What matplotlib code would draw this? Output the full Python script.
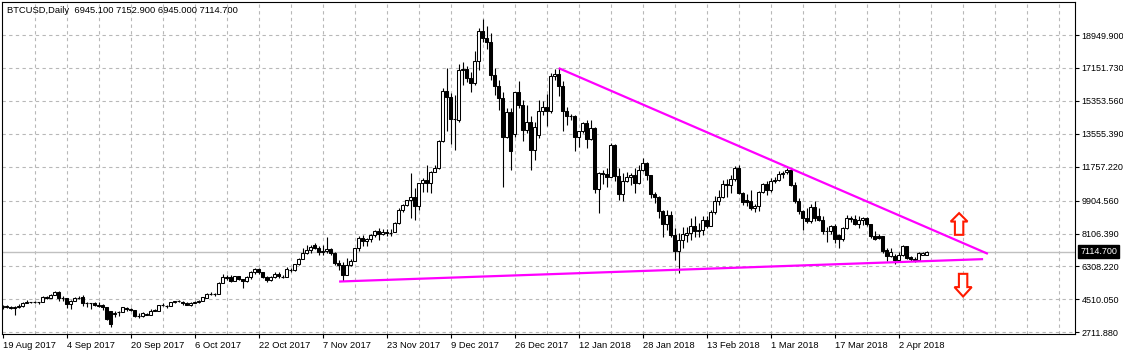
import matplotlib
matplotlib.use("Agg")
import matplotlib.pyplot as plt
from matplotlib.patches import Rectangle, Polygon
from matplotlib.transforms import blended_transform_factory
import pandas as pd

# ---------------- data ----------------
opens = [4080, 4170, 4110, 4030, 4090, 4150, 4310, 4360, 4350, 4360,
         4390, 4640, 4600, 4750, 4940, 4560, 4570, 4250, 4420, 4600,
         4620, 4300, 4310, 4290, 4210, 4200, 4080, 3850, 3700, 3800,
         3820, 4060, 3980, 3940, 3620, 3600, 3680, 3680, 3930, 3890,
         4200, 4180, 4170, 4340, 4400, 4390, 4310, 4220, 4320, 4370,
         4430, 4610, 4790, 4790, 4820, 5430, 5700, 5740, 5540, 5760,
         5600, 5500, 5730, 6000, 6150, 5990, 5750, 5560, 5740, 5900,
         5760, 5740, 6150, 6120, 6430, 6720, 7030, 7200, 7500, 7330,
         7080, 7140, 7260, 7060, 6500, 6400, 5860, 6400, 6600, 7300,
         7860, 7680, 7820, 8030, 8260, 8090, 8200, 8150, 8170, 8680,
         9390, 9670, 9920, 10080, 9600, 10850, 11030, 10860, 11490, 11700,
         13150, 15890, 15590, 14350, 14330, 17040, 17120, 16620, 16320, 17530,
         19170, 18810, 18560, 16740, 16140, 15500, 13400, 14770, 13530, 15820,
         15130, 13770, 14190, 12680, 13495, 14800, 15000, 14810, 16710, 16800,
         16170, 14800, 14500, 14530, 13370, 13700, 14130, 13270, 13860, 10530,
         11400, 11350, 11220, 12950, 11260, 10270, 10980, 11180, 11300, 10860,
         11580, 11950, 11310, 10280, 10100, 9310, 8620, 9130, 8040, 7130,
         7730, 8050, 8160, 8530, 8220, 8280, 8850, 8530, 9270, 9890,
         10090, 10820, 10730, 11070, 11670, 10310, 9960, 9910, 9490, 9600,
         10400, 10800, 10460, 10980, 11040, 11350, 11460, 11580, 10730, 9890,
         9310, 8980, 8770, 9580, 9060, 8860, 8220, 8260, 8520, 8040,
         7800, 8400, 8940, 8900, 8620, 8820, 8940, 8620, 7950, 7980,
         7970, 7200, 6860, 6900, 6640, 6950, 7400, 6850, 6710, 6640,
         6960, 6945.1]
highs = [4200, 4200, 4160, 4130, 4250, 4360, 4450, 4380, 4400, 4390,
         4680, 4680, 4780, 4990, 4980, 4680, 4590, 4450, 4650, 4690,
         4740, 4370, 4320, 4370, 4380, 4260, 4120, 3900, 3850, 3900,
         4120, 4110, 4040, 3950, 3760, 3800, 3760, 3980, 3970, 4220,
         4310, 4220, 4360, 4410, 4480, 4430, 4350, 4370, 4420, 4460,
         4650, 4880, 4930, 4880, 5440, 5880, 5840, 5860, 5800, 5780,
         5620, 5760, 6060, 6200, 6200, 6030, 5790, 5800, 5980, 5990,
         5820, 6300, 6220, 6450, 6750, 7300, 7460, 7500, 7600, 7420,
         7480, 7900, 7330, 7120, 6650, 6530, 6750, 6700, 7330, 7960,
         8030, 7860, 8100, 8300, 8400, 8340, 8330, 8340, 8740, 9480,
         9720, 9960, 11430, 10580, 10890, 11130, 11860, 11520, 11860, 13200,
         16040, 17140, 15800, 15680, 17390, 17500, 17260, 16950, 18050, 19320,
         19830, 19450, 19050, 17140, 16500, 15860, 14950, 14950, 15860, 16440,
         15390, 15100, 14500, 14190, 15400, 15350, 15710, 16860, 17100, 17140,
         16460, 15010, 14640, 14600, 13720, 14200, 14320, 14300, 13900, 11490,
         11600, 11700, 13040, 12990, 11700, 11400, 11490, 11400, 11680, 11850,
         12220, 12040, 11320, 10400, 10160, 9400, 9400, 9350, 8400, 8130,
         8490, 8490, 8940, 9040, 8670, 9040, 9040, 9400, 10130, 10490,
         11030, 11080, 11310, 11800, 11850, 10400, 10250, 10490, 9700, 10450,
         10890, 10950, 11130, 11170, 11500, 11510, 11690, 11690, 10900, 10070,
         9400, 9500, 9700, 9860, 9480, 9050, 8490, 8580, 8600, 8100,
         8450, 9130, 9040, 9130, 9040, 8990, 9000, 8650, 8220, 8100,
         7990, 7300, 7310, 7000, 7100, 7500, 7450, 6900, 6800, 7080,
         7110, 7152.9]
lows = [3980, 4050, 3990, 3650, 4060, 4120, 4290, 4300, 4330, 4240,
        4370, 4520, 4590, 4730, 4400, 4420, 4020, 3980, 4400, 4520,
        4150, 4120, 4000, 4160, 4070, 3950, 3400, 2980, 3550, 3600,
        3800, 3900, 3860, 3560, 3510, 3570, 3640, 3660, 3850, 3880,
        4150, 4020, 4160, 4290, 4370, 4220, 4180, 4170, 4300, 4320,
        4410, 4560, 4730, 4720, 4810, 5400, 5580, 5460, 5520, 5550,
        5120, 5460, 5650, 5900, 5900, 5700, 5460, 5510, 5700, 5680,
        5680, 5710, 6020, 6080, 6370, 6700, 6970, 7030, 7280, 6950,
        6960, 7030, 6950, 6400, 6120, 5520, 5830, 6330, 6580, 7130,
        7450, 7420, 7650, 7940, 7760, 8040, 7950, 7960, 8170, 8640,
        9300, 9600, 8950, 8820, 9370, 10400, 10400, 10310, 11440, 11650,
        13100, 13710, 12990, 12680, 14200, 16230, 16400, 15860, 16200, 17040,
        18590, 18200, 16500, 15680, 14860, 10670, 13300, 11550, 13400, 14950,
        13170, 13600, 11580, 12130, 13320, 14580, 13990, 14690, 16480, 15640,
        13730, 14040, 14300, 12590, 12820, 13600, 12770, 13200, 10300, 9220,
        10800, 10670, 11200, 10950, 9950, 9860, 10900, 10760, 10310, 10800,
        11500, 11040, 10050, 9760, 8960, 7940, 8300, 7900, 6670, 5940,
        7330, 7620, 7760, 7910, 7910, 8040, 8400, 8500, 9200, 9670,
        10030, 10100, 10310, 11000, 10250, 9670, 9600, 9400, 9270, 9310,
        10300, 10220, 10400, 10850, 10990, 11130, 11350, 10700, 9800, 9200,
        8310, 8700, 8700, 8800, 8780, 8100, 7670, 8100, 7580, 7310,
        7700, 8350, 8760, 8580, 8400, 8560, 8500, 7850, 7730, 7800,
        7060, 6580, 6800, 6430, 6600, 6900, 6700, 6600, 6540, 6600,
        6920, 6945.0]
closes = [4170, 4110, 4030, 4090, 4150, 4300, 4360, 4350, 4360, 4380,
          4640, 4600, 4750, 4940, 4560, 4570, 4250, 4420, 4600, 4620,
          4300, 4310, 4290, 4210, 4170, 4080, 3450, 3150, 3760, 3820,
          4080, 3980, 3940, 3620, 3600, 3760, 3730, 3900, 3890, 4200,
          4180, 4170, 4340, 4400, 4390, 4310, 4220, 4320, 4370, 4430,
          4620, 4790, 4780, 4820, 5430, 5720, 5740, 5500, 5760, 5600,
          5500, 5730, 6000, 6150, 5990, 5750, 5560, 5740, 5900, 5760,
          5740, 6150, 6120, 6430, 6720, 7030, 7200, 7390, 7330, 7080,
          7140, 7260, 7060, 6500, 6400, 5860, 6400, 6600, 7300, 7860,
          7680, 7820, 8030, 8260, 8090, 8200, 8150, 8170, 8680, 9390,
          9670, 9920, 10080, 9600, 10850, 11030, 10860, 11490, 11700, 13150,
          15890, 15590, 14350, 14330, 17040, 17120, 16620, 16320, 17530, 19170,
          18810, 18560, 16740, 16140, 15500, 13400, 14770, 12590, 15820, 15130,
          13770, 14190, 12680, 13910, 14800, 15000, 14810, 16710, 16800, 16170,
          14800, 14500, 14530, 13370, 13700, 14130, 13270, 13860, 10530, 11400,
          11350, 11220, 12950, 11260, 10270, 10980, 11180, 11300, 10860, 11580,
          11950, 11310, 10280, 10100, 9310, 8620, 9130, 8040, 7130, 7760,
          8090, 8160, 8530, 8220, 8280, 8850, 8530, 9270, 9890, 10090,
          10820, 10730, 11070, 11670, 10310, 9820, 9810, 9490, 9600, 10400,
          10800, 10460, 10980, 11040, 11350, 11430, 11580, 10730, 9890, 9310,
          8980, 8770, 9580, 8950, 8860, 8220, 8260, 8520, 7800, 7800,
          8400, 8940, 8900, 8620, 8820, 8940, 8620, 7950, 7800, 7860,
          7130, 6860, 7120, 6640, 6950, 7400, 6760, 6710, 6640, 7030,
          7030, 7114.7]

# daily bars, the feed has no bar for 25 Dec and 1 Jan
dates = pd.date_range("2017-08-19", "2018-04-09", freq="D")
dates = dates[~dates.isin(pd.to_datetime(["2017-12-25", "2018-01-01"]))]

price_ticks = [2711.88, 4510.05, 6308.22, 8106.39, 9904.56,
               11757.22, 13555.39, 15353.56, 17151.73, 18949.90]

last_price = 7114.70
header = "BTCUSD,Daily  6945.100 7152.900 6945.000 7114.700"

# trend lines: (bar index, price) end points
upper_line = ([139, 246.3], [17140, 6998])
lower_line = ([84.1, 245.1], [5485, 6708])

assert len(dates) == len(opens) == len(highs) == len(lows) == len(closes)

# ---------------- plot ----------------
plt.rcParams['font.family'] = ['Liberation Sans', 'DejaVu Sans']
FS = 6.75     # dates and header
FS_Y = 6.5    # price scale, must fit the narrow right margin

W, H = 1123, 356
fig = plt.figure(figsize=(W / 100, H / 100), dpi=100)
ax = fig.add_axes([2.3 / W, (H - 334.3) / H, 1073 / W, 332.6 / H])

n = len(closes)
ax.set_xlim(-0.1, 268.15)
ax.set_ylim(2602.6, 20768.9)

grid_kw = dict(color='#b8b8b8', lw=0.8, ls=(0, (3, 3)), zorder=0)
for p in price_ticks:
    ax.axhline(p, **grid_kw)
for k in range(8, 268, 8):
    ax.axvline(k, **grid_kw)

ax.axhline(last_price, color='#c0c0c0', lw=1, zorder=1)

# candles
for i in range(n):
    o, h, l, c = opens[i], highs[i], lows[i], closes[i]
    ax.vlines(i, l, h, color='black', lw=0.8, zorder=2)
    lo, hi = min(o, c), max(o, c)
    if hi - lo < 40:
        ax.hlines((o + c) / 2, i - 0.4, i + 0.4, color='black', lw=0.8, zorder=3)
    else:
        face = 'white' if c >= o else 'black'
        ax.add_patch(Rectangle((i - 0.37, lo), 0.74, hi - lo, facecolor=face,
                               edgecolor='black', lw=0.75, zorder=3))

ax.plot(*upper_line, color='#ff00ff', lw=1.6, zorder=4, solid_capstyle='butt')
ax.plot(*lower_line, color='#ff00ff', lw=1.6, zorder=4, solid_capstyle='butt')


def block_arrow(xc, tip, base, neck, head_w, shaft_w):
    pts = [(xc, tip), (xc - head_w, neck), (xc - shaft_w, neck), (xc - shaft_w, base),
           (xc + shaft_w, base), (xc + shaft_w, neck), (xc + head_w, neck)]
    ax.add_patch(Polygon(pts, closed=True, facecolor='white', edgecolor='#ff1a00',
                         lw=1.5, zorder=5))


block_arrow(239.1, 9220, 8036, 8760, 2.1, 1.05)
block_arrow(240.1, 4666, 5905, 5180, 2.15, 1.05)

# axes cosmetics
for s in ax.spines.values():
    s.set_color('black')
    s.set_linewidth(0.8)

ax.yaxis.tick_right()
ax.set_yticks(price_ticks)
ax.set_yticklabels([f"{p:.3f}" for p in price_ticks])
ax.tick_params(axis='y', direction='out', length=3, width=0.8, pad=1.5,
               labelsize=FS_Y, colors='black')

label_idx = list(range(0, n, 16))
ax.set_xticks(label_idx)
ax.set_xticklabels([f"{dates[k].day} {dates[k].strftime('%b %Y')}" for k in label_idx],
                   ha='left')
ax.tick_params(axis='x', direction='out', length=3, width=0.8, pad=1.5,
               labelsize=FS, colors='black')

tr = blended_transform_factory(ax.transAxes, ax.transData)
ax.text(1.0045, last_price, "7114.700", transform=tr, color='white', fontsize=FS_Y,
        va='center', ha='left',
        bbox=dict(boxstyle='square,pad=0.25', facecolor='black', edgecolor='black'))

fig.text(7 / W, 1 - 10.7 / H, header, fontsize=FS, va='center', ha='left')

fig.savefig("out.png", dpi=100, facecolor='white')
